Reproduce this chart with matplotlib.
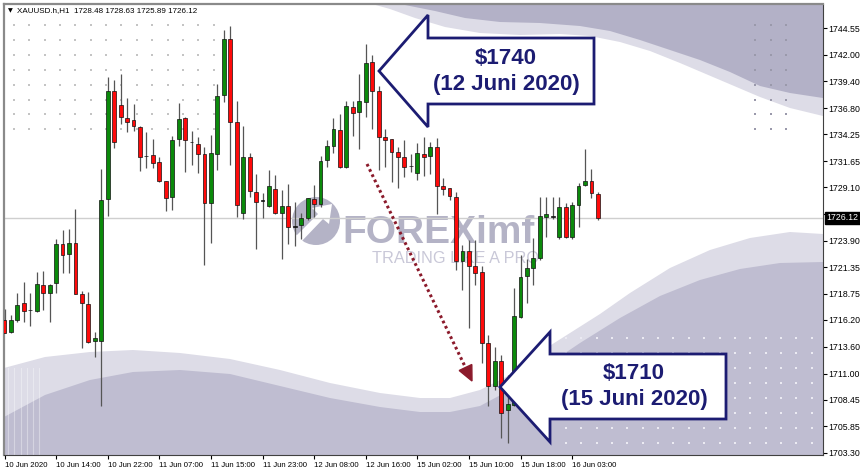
import matplotlib.pyplot as plt
import numpy as np
from matplotlib.patches import Polygon, Circle
import matplotlib.transforms as mtransforms

# ---- XAUUSD H1, 10-16 Jun 2020 ----
opens = [1716.21, 1715.08, 1716.21, 1717.89, 1717.15, 1717.12, 1719.61, 1718.87, 1719.77, 1723.59,
         1722.62, 1723.72, 1718.70, 1717.77, 1714.17, 1714.17, 1727.92, 1738.44, 1737.08, 1735.79,
         1735.62, 1734.98, 1732.10, 1732.23, 1731.58, 1729.70, 1728.18, 1733.78, 1735.79, 1733.46,
         1733.29, 1732.29, 1727.54, 1732.29, 1738.05, 1743.55, 1735.40, 1726.63, 1732.00, 1728.60,
         1727.80, 1727.31, 1728.93, 1726.63, 1727.31, 1725.30, 1725.43, 1726.08, 1727.96, 1727.47,
         1731.74, 1733.10, 1734.65, 1731.09, 1736.92, 1736.43, 1737.40, 1741.29, 1738.44, 1734.00,
         1733.77, 1732.55, 1732.06, 1731.13, 1730.44, 1732.29, 1732.13, 1732.97, 1729.21, 1728.99,
         1728.18, 1721.97, 1722.90, 1721.48, 1720.83, 1713.94, 1709.74, 1712.23, 1707.41, 1707.96,
         1716.53, 1720.48, 1721.29, 1722.19, 1726.17, 1726.22, 1724.30, 1727.21, 1724.23, 1727.37,
         1729.31, 1729.70, 1728.48]
highs = [1717.25, 1716.70, 1718.87, 1719.93, 1718.87, 1720.84, 1721.00, 1719.65, 1724.07, 1724.95,
         1725.01, 1726.95, 1719.06, 1718.96, 1715.02, 1730.87, 1739.77, 1739.57, 1740.06, 1737.73,
         1737.24, 1735.04, 1734.49, 1733.75, 1732.07, 1729.75, 1734.07, 1737.31, 1735.95, 1734.56,
         1733.94, 1733.04, 1734.17, 1739.18, 1744.36, 1744.75, 1737.47, 1735.04, 1732.45, 1730.35,
         1728.57, 1730.77, 1730.29, 1728.83, 1729.38, 1727.70, 1726.63, 1728.05, 1729.32, 1732.13,
         1733.68, 1735.85, 1736.21, 1737.47, 1737.47, 1740.15, 1743.00, 1741.93, 1738.96, 1734.81,
         1733.80, 1733.03, 1733.74, 1732.32, 1733.42, 1734.00, 1733.52, 1733.84, 1729.96, 1729.05,
         1728.66, 1723.49, 1723.97, 1723.97, 1721.48, 1714.75, 1713.62, 1712.81, 1710.87, 1719.28,
         1722.52, 1722.09, 1724.13, 1728.11, 1728.11, 1728.18, 1728.18, 1727.60, 1727.69, 1729.54,
         1732.77, 1730.83, 1728.63]
lows = [1714.92, 1714.92, 1716.05, 1716.05, 1715.63, 1717.02, 1717.18, 1716.05, 1718.87, 1720.81,
        1720.74, 1718.70, 1713.46, 1714.01, 1712.59, 1707.80, 1726.34, 1732.94, 1735.20, 1734.43,
        1734.59, 1730.67, 1731.00, 1731.00, 1729.57, 1726.82, 1726.89, 1733.13, 1730.61, 1731.26,
        1730.51, 1721.55, 1723.72, 1730.77, 1737.40, 1731.26, 1726.24, 1726.01, 1728.18, 1723.10,
        1726.14, 1727.21, 1726.47, 1722.13, 1723.56, 1723.39, 1724.07, 1725.92, 1726.18, 1727.21,
        1731.09, 1732.39, 1730.95, 1730.95, 1734.10, 1732.78, 1735.95, 1734.81, 1730.77, 1731.09,
        1729.63, 1728.99, 1730.12, 1730.60, 1729.80, 1730.18, 1730.38, 1726.46, 1728.34, 1727.85,
        1721.06, 1719.12, 1715.40, 1719.60, 1712.00, 1707.86, 1709.41, 1704.72, 1704.24, 1707.80,
        1716.37, 1717.82, 1719.60, 1722.00, 1724.30, 1725.98, 1724.04, 1724.13, 1724.10, 1725.27,
        1729.20, 1728.08, 1725.89]
closes = [1714.98, 1716.21, 1717.67, 1717.09, 1717.20, 1719.67, 1718.87, 1719.61, 1723.56, 1722.52,
          1723.65, 1718.70, 1717.83, 1714.04, 1714.43, 1727.86, 1738.44, 1733.52, 1735.88, 1735.40,
          1735.04, 1732.07, 1732.13, 1731.42, 1729.70, 1728.02, 1733.68, 1735.72, 1733.68, 1733.49,
          1732.29, 1727.60, 1732.39, 1737.99, 1743.55, 1735.46, 1727.37, 1732.07, 1728.77, 1727.70,
          1727.83, 1729.25, 1726.57, 1727.28, 1725.27, 1725.27, 1726.08, 1728.02, 1727.44, 1731.68,
          1733.13, 1734.72, 1731.09, 1736.98, 1736.27, 1737.47, 1741.19, 1738.47, 1734.01, 1733.74,
          1732.55, 1732.06, 1731.09, 1731.15, 1732.45, 1732.06, 1732.97, 1729.21, 1728.92, 1728.27,
          1721.93, 1722.90, 1721.48, 1720.74, 1713.94, 1709.74, 1712.23, 1707.15, 1708.05, 1716.59,
          1720.41, 1721.22, 1722.19, 1726.30, 1726.50, 1726.24, 1727.14, 1724.23, 1727.37, 1729.25,
          1729.70, 1728.57, 1726.12]

price_ticks = [1744.55, 1742.00, 1739.40, 1736.80, 1734.25, 1731.65, 1729.10, 1726.50, 1723.90,
               1721.35, 1718.75, 1716.20, 1713.60, 1711.00, 1708.45, 1705.85, 1703.30]
time_ticks = [0, 8, 16, 24, 32, 40, 48, 56, 64, 72, 80, 88]
time_labels = ["10 Jun 2020", "10 Jun 14:00", "10 Jun 22:00", "11 Jun 07:00", "11 Jun 15:00",
               "11 Jun 23:00", "12 Jun 08:00", "12 Jun 16:00", "15 Jun 02:00", "15 Jun 10:00",
               "15 Jun 18:00", "16 Jun 03:00"]
last_price = 1726.12
header = "XAUUSD.h,H1  1728.48 1728.63 1725.89 1726.12"

W, H = 860, 473
fig = plt.figure(figsize=(W / 100, H / 100), dpi=100, facecolor="white")
pos = [4 / W, 18 / H, 819 / W, 451 / H]

# fond decoratif (coordonnees pixels)
bg = fig.add_axes(pos, zorder=0)
bg.set_xlim(4, 823)
bg.set_ylim(455, 4)
bg.axis("off")

light, dark, topdark = "#dddce7", "#bfbdd1", "#b3b1c7"
bg.add_patch(Polygon([(372, 4), (823, 4), (823, 116), (790, 108), (760, 97), (720, 80), (680, 63),
                      (650, 51), (620, 42), (590, 36), (560, 34), (520, 35), (480, 33), (445, 27),
                      (415, 18), (390, 9)], fc=light, ec="none"))
bg.add_patch(Polygon([(400, 4), (823, 4), (823, 98), (790, 93), (760, 86), (730, 72), (700, 60),
                      (670, 50), (640, 40), (610, 31), (580, 26), (540, 23), (500, 22), (465, 18),
                      (435, 11)], fc=topdark, ec="none"))
bg.add_patch(Polygon([(4, 455), (4, 368), (45, 357), (90, 352), (133, 350), (180, 353), (230, 359),
                      (280, 370), (330, 383), (380, 393), (420, 398), (450, 398), (480, 390),
                      (510, 375), (540, 352), (570, 333), (600, 314), (630, 293), (670, 268),
                      (710, 250), (750, 238), (790, 232), (823, 234), (823, 455)], fc=light, ec="none"))
bg.add_patch(Polygon([(4, 455), (4, 417), (45, 395), (90, 380), (133, 372), (180, 370), (230, 374),
                      (280, 386), (330, 398), (380, 407), (420, 412), (450, 412), (480, 406),
                      (510, 390), (540, 370), (580, 343), (620, 318), (660, 296), (700, 280),
                      (740, 269), (780, 263), (823, 262), (823, 455)], fc=dark, ec="none"))
for xs in [8, 14, 21, 27, 33, 39]:
    bg.plot([xs, xs], [368, 455], color="white", lw=0.8, alpha=0.35)

# grilles de points
gx, gy = np.meshgrid(np.arange(14, 216, 15.35), np.arange(25, 131, 14.9))
bg.scatter(gx.ravel(), gy.ravel(), s=1.2, marker="s", color="#c4c4c4", lw=0)
gx, gy = np.meshgrid([755, 771, 786], np.arange(25, 131, 14.9))
bg.scatter(gx.ravel(), gy.ravel(), s=1.2, marker="s", color="#9a99ab", lw=0)
gx, gy = np.meshgrid(np.arange(566, 815, 15.35), np.arange(338, 446, 15))
bg.scatter(gx.ravel(), gy.ravel(), s=1.4, marker="s", color="#ebeaf2", lw=0)

# filigrane
wm = "#acabc0"
bg.add_patch(Circle((316, 221), 24, fc=wm, ec="none", alpha=0.9))
bg.add_patch(Polygon([(300, 243), (296, 236), (318, 214), (312, 208), (332, 204), (329, 224),
                      (323, 219)], fc="white", ec="none"))
bg.text(342, 243, "FOREXimf", fontsize=28, fontweight="bold", family="Liberation Sans",
        color=wm, alpha=0.9, va="baseline")
bg.text(372, 263, "TRADING LIKE A PRO", fontsize=11.7, family="Liberation Sans",
        color="#c9c8d8", va="baseline")

# bougies
ax = fig.add_axes(pos, zorder=1)
ax.patch.set_alpha(0)
x = np.arange(len(opens))
o = np.array(opens)
c = np.array(closes)
ax.axhline(last_price, color="#cfcfcf", lw=1, zorder=1)
ax.vlines(x, lows, highs, color="#555555", lw=0.9, zorder=2)
cols = np.where(np.abs(c - o) < 0.08, "#111111", np.where(c > o, "#0b8a0b", "#ff0a0a"))
ax.bar(x, np.maximum(np.abs(c - o), 0.07), bottom=np.minimum(o, c), width=0.6,
       color=cols, edgecolor="#111111", linewidth=0.5, zorder=3)

ax.set_xlim(-0.08, 126.9)
ax.set_ylim(1703.08, 1746.91)
ax.yaxis.tick_right()
ax.set_yticks(price_ticks)
ax.set_yticklabels([f"{p:.2f}" for p in price_ticks], fontsize=6.3, family="Liberation Sans")
ax.set_xticks(time_ticks)
ax.set_xticklabels(time_labels, fontsize=5.6, family="Liberation Sans", ha="left")
ax.tick_params(axis="y", length=3, width=0.8, pad=1)
ax.tick_params(axis="x", length=3, width=0.8, pad=2)
for side in ["top", "left"]:
    ax.spines[side].set_color("#8a8a8a")
    ax.spines[side].set_linewidth(1.6)
for side in ["right", "bottom"]:
    ax.spines[side].set_color("#404040")

tr = mtransforms.blended_transform_factory(ax.transAxes, ax.transData)
ax.text(1.004, last_price, "1726.12", transform=tr, fontsize=6.3, family="Liberation Sans",
        color="white", va="center", ha="left", zorder=10, clip_on=False,
        bbox=dict(boxstyle="square,pad=0.2", fc="black", ec="black"))

# annotations (coordonnees pixels)
ov = fig.add_axes(pos, zorder=2)
ov.set_xlim(4, 823)
ov.set_ylim(455, 4)
ov.axis("off")
ov.text(8, 11, "▼", fontsize=4.5, va="center")
ov.text(17, 11, header, fontsize=5.8, family="Liberation Sans", va="center")

red = "#8b1a2b"
ov.plot([367, 465.5], [164, 367.5], color=red, lw=2.2, ls=(0, (0.9, 1.0)))
ov.add_patch(Polygon([(472, 381), (471.8, 364.5), (459.2, 370.5)], fc=red, ec=red))

navy = "#1c1c72"
ov.add_patch(Polygon([(379, 71), (428, 15), (428, 38), (594, 38), (594, 104), (428, 104),
                      (428, 127)], fc="white", ec=navy, lw=2))
ov.add_patch(Polygon([(500, 387), (550, 332), (550, 354), (726, 354), (726, 419), (550, 419),
                      (550, 442)], fc="white", ec=navy, lw=2))
for cx, cy, t1, t2 in [(506, 71, "$1740", "(12 Juni 2020)"), (634, 386, "$1710", "(15 Juni 2020)")]:
    ov.text(cx, cy - 13, t1, fontsize=16, fontweight="bold", family="Liberation Sans",
            color=navy, ha="center", va="center")
    ov.text(cx, cy + 13, t2, fontsize=16, fontweight="bold", family="Liberation Sans",
            color=navy, ha="center", va="center")

fig.savefig("out.png", dpi=100, facecolor="white")
